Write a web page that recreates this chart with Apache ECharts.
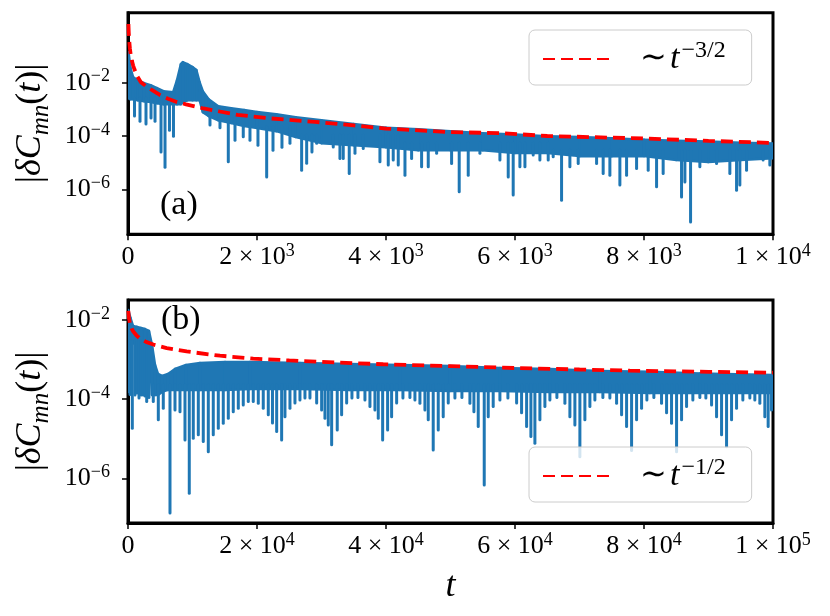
<!DOCTYPE html>
<html>
<head>
<meta charset="utf-8">
<script src="https://cdn.jsdelivr.net/npm/echarts@6/dist/echarts.min.js"></script>
<style>
html, body { margin: 0; padding: 0; background: #fff; }
#chart { width: 830px; height: 616px; }
</style>
</head>
<body>
<div id="chart"></div>
<script>
// tick values and labels
var xTicksA = [0, 2000, 4000, 6000, 8000, 10000];
var xTicksB = [0, 20000, 40000, 60000, 80000, 100000];
var xMant = ['0', '2', '4', '6', '8', '1'];
var xExpA = ['', '3', '3', '3', '3', '4'];
var xExpB = ['', '4', '4', '4', '4', '5'];
var yTicks = [1e-6, 1e-4, 1e-2];
var yExp = ['−6', '−4', '−2'];

// panel (a): |dC| band (upper / lower edge of the dense oscillation)
var bandTA = [8, 40, 80, 150, 250, 350, 450, 550, 700, 760, 820, 850, 920, 1000, 1060, 1110, 1160, 1250, 1400, 1600, 1800, 2000, 2300, 2600, 3000, 3500, 4000, 4500, 5000, 5500, 6000, 6500, 7000, 7500, 8000, 8500, 9000, 9500, 10000];
var bandHiA = [0.14, 0.035, 0.016, 0.0125, 0.0097, 0.0081, 0.0063, 0.0048, 0.0044, 0.0125, 0.05, 0.059, 0.05, 0.0385, 0.03, 0.0105, 0.0048, 0.0024, 0.00132, 0.00111, 0.00094, 0.00079, 0.00066, 0.00051, 0.00039, 0.00028, 0.000205, 0.00018, 0.000152, 0.000128, 0.000113, 0.000099, 0.000091, 0.000083, 0.000073, 0.000067, 0.000062, 0.0000565, 0.000052];
var bandLoA = [0.0026, 0.0024, 0.0024, 0.0022, 0.002, 0.00187, 0.0017, 0.00157, 0.00157, 0.00157, 0.00157, 0.00187, 0.0022, 0.0022, 0.0022, 0.0022, 0.00079, 0.00056, 0.00039, 0.000305, 0.000235, 0.000198, 0.000152, 0.000091, 0.000054, 0.0000455, 0.000038, 0.0000295, 0.0000295, 0.0000295, 0.000023, 0.000023, 0.0000176, 0.0000176, 0.0000176, 0.0000125, 0.0000105, 0.0000125, 0.0000148];
// dips below the band: [t, from, down to]
var spikesA = [
    [101, 2.6e-3, 5.6e-4], [186, 2.6e-3, 3.6e-4], [279, 2.6e-3, 2.8e-4], [357, 2.6e-3, 4.7e-4],
    [419, 2.6e-3, 3.6e-4], [512, 2.6e-3, 2.5e-5], [574, 2.6e-3, 6.8e-6], [643, 2.6e-3, 1.66e-4],
    [705, 2.6e-3, 9.9e-5], [1271, 1.1e-3, 2.6e-4], [1426, 4.7e-4, 2.05e-4], [1555, 4.7e-4, 1.08e-5],
    [1659, 4.7e-4, 7.0e-5], [1787, 4.7e-4, 9.3e-5], [1891, 4.7e-4, 7.0e-5], [2015, 2.2e-4, 4.55e-5],
    [2150, 2.2e-4, 2.9e-6], [2248, 2.2e-4, 2.95e-5], [2387, 2.2e-4, 3.8e-5], [2511, 2.2e-4, 5.4e-5],
    [2692, 1.08e-4, 5.2e-6], [2770, 1.08e-4, 9.6e-6], [2852, 1.08e-4, 2.5e-5], [2925, 1.08e-4, 5.4e-5],
    [3182, 1.08e-4, 3.9e-5], [3286, 1.08e-4, 1.44e-5], [3337, 1.08e-4, 1.44e-5], [3430, 1.08e-4, 3.9e-6],
    [3519, 1.08e-4, 2.25e-5], [3647, 1.08e-4, 3.4e-5], [3906, 1.08e-4, 1.08e-5], [4035, 1.08e-4, 8.1e-6],
    [4112, 1.08e-4, 1.25e-5], [4190, 1.08e-4, 8.1e-6], [4294, 5.4e-5, 3.4e-6], [4397, 5.4e-5, 1.44e-5],
    [4552, 5.4e-5, 7.0e-6], [4655, 5.4e-5, 7.0e-6], [4785, 5.4e-5, 2.25e-5], [5017, 5.4e-5, 9.4e-6],
    [5135, 5.4e-5, 8.1e-7], [5275, 5.4e-5, 3.4e-6], [5456, 5.4e-5, 2.25e-5], [5766, 5.4e-5, 1.25e-5],
    [5895, 5.4e-5, 2.9e-6], [5972, 5.4e-5, 6.1e-7], [6076, 5.4e-5, 7.0e-6], [6154, 5.4e-5, 7.0e-6],
    [6282, 5.4e-5, 1.92e-5], [6386, 5.4e-5, 1.25e-5], [6515, 5.4e-5, 1.25e-5], [6592, 2.95e-5, 1.66e-5],
    [6722, 2.95e-5, 3.9e-7], [6851, 2.95e-5, 7.0e-6], [6980, 2.95e-5, 9.4e-6], [7265, 2.95e-5, 9.4e-6],
    [7367, 2.95e-5, 3.9e-6], [7471, 2.95e-5, 3.4e-6], [7626, 2.95e-5, 1.44e-6], [7730, 2.95e-5, 3.4e-6],
    [7885, 2.95e-5, 6.1e-6], [8065, 2.95e-5, 5.2e-6], [8195, 2.95e-5, 1.24e-6], [8297, 2.95e-5, 3.9e-6],
    [8582, 2.95e-5, 5.2e-7], [8634, 2.95e-5, 1.9e-6], [8722, 2.95e-5, 6.0e-8], [8866, 2.95e-5, 7.0e-6],
    [9125, 2.95e-5, 9.4e-6], [9331, 2.95e-5, 3.9e-6], [9435, 2.95e-5, 9.3e-7], [9486, 2.95e-5, 1.44e-6],
    [9590, 2.95e-5, 5.2e-6], [9847, 2.95e-5, 1.25e-5], [9951, 2.95e-5, 8.1e-6]
];
// red dashed guide ~ t^-3/2
var fitA = [[7, 1.6], [12, 0.75], [20, 0.35], [30, 0.19], [45, 0.1], [60, 0.068], [80, 0.044], [100, 0.032], [135, 0.019], [200, 0.0105], [290, 0.0071], [400, 0.0048], [500, 0.0034], [620, 0.0025], [755, 0.0019], [900, 0.00155], [1170, 0.00108], [1400, 0.00085], [1700, 0.00062], [2200, 0.00046], [2900, 0.00034], [3500, 0.00025], [4000, 0.00019], [5000, 0.00014], [5800, 0.000128], [6500, 0.0001], [8000, 0.000081], [9000, 0.000066], [10000, 0.000055]];

// panel (b)
var bandTB = [50, 390, 775, 1400, 2000, 2640, 3250, 3720, 4190, 4650, 5270, 6200, 7290, 9000, 11160, 15040, 18900, 26660, 34410, 42160, 49910, 57660, 65410, 73160, 80910, 88660, 100000];
var bandHiB = [1.79e-2, 1.12e-2, 7.1e-3, 6.7e-3, 6.3e-3, 5.9e-3, 5.3e-3, 2.34e-3, 7.3e-4, 4.33e-4, 3.85e-4, 4.33e-4, 5.8e-4, 7.3e-4, 8.2e-4, 8.7e-4, 8.7e-4, 8.2e-4, 7.7e-4, 7.3e-4, 6.9e-4, 6.1e-4, 5.8e-4, 5.15e-4, 4.9e-4, 4.45e-4, 4.08e-4];
var bandLoB = [1.52e-4, 2.6e-3, 2.6e-3, 2.6e-3, 2.6e-3, 2.6e-3, 2.6e-3, 1.28e-4, 1.28e-4, 1.28e-4, 1.52e-4, 1.71e-4, 1.71e-4, 1.71e-4, 1.71e-4, 1.71e-4, 1.81e-4, 1.81e-4, 1.71e-4, 1.71e-4, 1.61e-4, 1.61e-4, 1.52e-4, 1.52e-4, 1.43e-4, 1.43e-4, 1.43e-4];
var spikesB = [
    [310, 3.0e-3, 1.3e-4], [667, 3.0e-3, 1.84e-5], [1085, 3.0e-3, 1.28e-4], [1400, 3.0e-3, 1.43e-4],
    [1705, 3.0e-3, 1.07e-4], [2050, 3.0e-3, 1.28e-4], [2370, 3.0e-3, 1.28e-4], [2650, 3.0e-3, 1.2e-4],
    [2900, 3.0e-3, 8.65e-5], [3250, 3.0e-3, 1.1e-4], [3920, 2.28e-4, 8.65e-5], [4700, 2.28e-4, 3.0e-5],
    [5470, 2.28e-4, 5.9e-5],
    [6510, 2.28e-4, 1.32e-7], [7285, 2.28e-4, 5.3e-5], [8060, 2.28e-4, 4.8e-5], [8835, 2.28e-4, 9.3e-6],
    [9500, 2.28e-4, 4.2e-7], [10120, 2.28e-4, 1.03e-5], [10900, 2.28e-4, 1.25e-5], [11670, 2.28e-4, 8.45e-6],
    [12450, 2.28e-4, 4.7e-6], [13220, 2.28e-4, 1.25e-5], [14000, 2.28e-4, 1.84e-5], [14770, 2.28e-4, 2.46e-5],
    [15550, 2.28e-4, 3.3e-5], [16320, 2.28e-4, 4.8e-5], [17100, 2.28e-4, 5.9e-5], [17870, 2.28e-4, 7.1e-5],
    [18650, 2.28e-4, 8.65e-5], [19420, 2.28e-4, 8.65e-5], [20200, 2.28e-4, 7.9e-5], [20970, 2.28e-4, 5.9e-5],
    [21750, 2.28e-4, 4.0e-5], [22400, 2.28e-4, 2.5e-5], [23050, 2.28e-4, 1.51e-5], [23820, 2.28e-4, 9.3e-6],
    [24335, 2.28e-4, 3.6e-5], [25110, 2.28e-4, 5.9e-5], [25885, 2.28e-4, 8.0e-5], [26660, 2.28e-4, 9.5e-5],
    [27435, 2.28e-4, 1.07e-4], [28210, 2.28e-4, 1.07e-4], [29250, 2.28e-4, 8.0e-5], [30020, 2.28e-4, 5.3e-5],
    [30535, 2.28e-4, 3.3e-5], [31050, 2.28e-4, 2.23e-5], [31574, 2.28e-4, 7.0e-6], [32440, 2.28e-4, 1.67e-5],
    [33120, 2.28e-4, 4.0e-5], [33900, 2.28e-4, 8.0e-5], [34720, 2.28e-4, 1.07e-4], [35650, 2.28e-4, 1.1e-4],
    [36735, 2.28e-4, 9.5e-5], [37510, 2.28e-4, 6.5e-5], [38285, 2.28e-4, 5.3e-5], [38800, 2.28e-4, 3.3e-5],
    [39480, 2.28e-4, 9.3e-6], [40250, 2.28e-4, 1.67e-5], [40870, 2.28e-4, 3.6e-5], [41650, 2.28e-4, 8.0e-5],
    [42625, 2.28e-4, 1.07e-4], [43710, 2.28e-4, 1.1e-4], [44485, 2.28e-4, 9.5e-5], [45260, 2.28e-4, 7.9e-5],
    [46035, 2.28e-4, 5.3e-5], [46550, 2.28e-4, 3.0e-5], [47320, 2.28e-4, 5.2e-6], [48100, 2.28e-4, 1.67e-5],
    [48870, 2.28e-4, 3.6e-5], [49650, 2.28e-4, 8.0e-5], [50685, 2.28e-4, 1.07e-4], [51770, 2.28e-4, 1.1e-4],
    [53010, 2.28e-4, 7.9e-5], [53630, 2.28e-4, 4.8e-5], [54300, 2.28e-4, 2.02e-5], [55230, 2.28e-4, 6.8e-7],
    [55850, 2.28e-4, 3.6e-5], [56620, 2.28e-4, 6.5e-5], [57660, 2.28e-4, 9.5e-5], [58900, 2.28e-4, 1.07e-4],
    [60250, 2.28e-4, 8.0e-5], [61020, 2.28e-4, 4.5e-5], [61800, 2.28e-4, 2.02e-5], [62465, 2.28e-4, 1.13e-5],
    [63085, 2.28e-4, 7.7e-6], [63860, 2.28e-4, 3.0e-5], [64635, 2.28e-4, 6.5e-5], [65410, 2.28e-4, 9.5e-5],
    [66495, 2.28e-4, 1.1e-4], [67735, 2.28e-4, 7.9e-5], [68510, 2.28e-4, 3.6e-5], [69285, 2.28e-4, 2.23e-5],
    [70060, 2.28e-4, 3.5e-6], [70835, 2.28e-4, 3.0e-5], [71610, 2.28e-4, 6.5e-5], [72385, 2.28e-4, 9.5e-5],
    [73625, 2.28e-4, 1.1e-4], [74710, 2.28e-4, 1.07e-4], [75750, 2.28e-4, 7.9e-5], [76525, 2.28e-4, 4.0e-5],
    [77300, 2.28e-4, 2.02e-5], [78075, 2.28e-4, 5.0e-6], [78850, 2.28e-4, 3.0e-5], [79625, 2.28e-4, 5.9e-5],
    [80445, 2.28e-4, 9.5e-5], [81530, 2.28e-4, 1.1e-4], [82720, 2.28e-4, 7.9e-5], [83500, 2.28e-4, 4.5e-5],
    [84270, 2.28e-4, 2.46e-5], [85050, 2.28e-4, 4.7e-6], [85825, 2.28e-4, 3.0e-5], [86600, 2.28e-4, 6.5e-5],
    [87575, 2.28e-4, 9.5e-5], [88660, 2.28e-4, 1.1e-4], [89590, 2.28e-4, 1.07e-4], [90475, 2.28e-4, 7.1e-5],
    [91250, 2.28e-4, 3.6e-5], [92025, 2.28e-4, 1.25e-5], [92800, 2.28e-4, 6.3e-6], [93575, 2.28e-4, 3.0e-5],
    [94350, 2.28e-4, 5.9e-5], [95325, 2.28e-4, 9.5e-5], [96410, 2.28e-4, 1.07e-4], [97185, 2.28e-4, 9.5e-5],
    [97960, 2.28e-4, 7.9e-5], [98735, 2.28e-4, 3.6e-5], [99250, 2.28e-4, 2.02e-5], [99770, 2.28e-4, 5.3e-5]
];
// red dashed guide ~ t^-1/2
var fitB = [[50, 1.7e-2], [150, 1.1e-2], [310, 8.0e-3], [570, 6.0e-3], [820, 5.1e-3], [1300, 4.1e-3], [1860, 3.4e-3], [2800, 2.8e-3], [3920, 2.4e-3], [6000, 1.95e-3], [9100, 1.6e-3], [14260, 1.25e-3], [19420, 1.06e-3], [25000, 9.5e-4], [29250, 8.85e-4], [39570, 7.6e-4], [50000, 6.8e-4], [60250, 6.1e-4], [70000, 5.6e-4], [77810, 5.25e-4], [90000, 4.9e-4], [100000, 4.67e-4]];

var nameA = '∼t^(−3/2)';
var nameB = '∼t^(−1/2)';

var blue = '#1f77b4';
var red = '#ff0000';
var serif = 'Liberation Serif';

var chart = echarts.init(document.getElementById('chart'));

var tickRich = {
    b: { fontFamily: serif, fontSize: 26, lineHeight: 30, color: '#000' },
    s: { fontFamily: serif, fontSize: 18, lineHeight: 20, verticalAlign: 'top', color: '#000' }
};

function xFormatter(ticks, exps) {
    return function (v) {
        var i = ticks.indexOf(v);
        if (i < 0) return '';
        if (!exps[i]) return '{b|' + xMant[i] + '}';
        return '{b|' + xMant[i] + ' × 10}{s|' + exps[i] + '}';
    };
}

function yFormatter(v) {
    var best = 0;
    for (var i = 0; i < yTicks.length; i++) {
        if (Math.abs(Math.log10(v) - Math.log10(yTicks[i])) < Math.abs(Math.log10(v) - Math.log10(yTicks[best]))) best = i;
    }
    return '{b|10}{s|' + yExp[best] + '}';
}

var yName = '{p||}{i|δC}{s|mn}{p|(}{i|t}{p|)|}';
var yNameStyle = {
    color: '#000', fontFamily: serif,
    rich: {
        p: { fontFamily: serif, fontSize: 36, lineHeight: 46, color: '#000' },
        i: { fontFamily: serif, fontStyle: 'italic', fontSize: 36, lineHeight: 46, color: '#000' },
        s: { fontFamily: serif, fontStyle: 'italic', fontSize: 25, lineHeight: 28, verticalAlign: 'bottom', color: '#000' }
    }
};

function xAxisOpt(gi, max, ticks, exps) {
    return {
        gridIndex: gi, type: 'value', min: 0, max: max, interval: ticks[1],
        axisLine: { show: true, onZero: false, lineStyle: { color: '#000', width: 3 } },
        axisTick: { show: true, length: 6, lineStyle: { color: '#000', width: 1.5 } },
        axisLabel: { margin: 8, fontFamily: serif, fontSize: 26, formatter: xFormatter(ticks, exps), rich: tickRich, color: '#000' },
        splitLine: { show: false }
    };
}

function yAxisOpt(gi, min, max) {
    return {
        gridIndex: gi, type: 'log', logBase: 10, min: min, max: max,
        axisLine: { show: true, lineStyle: { color: '#000', width: 3 } },
        axisTick: { show: true, customValues: yTicks, length: 6, lineStyle: { color: '#000', width: 1.5 } },
        axisLabel: { customValues: yTicks, margin: 18, fontFamily: serif, fontSize: 26, formatter: yFormatter, rich: tickRich, color: '#000' },
        minorTick: { show: false },
        splitLine: { show: false },
        name: yName, nameLocation: 'middle', nameRotate: 90, nameGap: 74,
        nameMoveOverlap: false,
        nameTextStyle: yNameStyle
    };
}

function panelSeries(gi, T, hi, lo, spikes, fit, fitName) {
    // one quadrilateral per pair of neighbouring samples of the band
    var segs = [];
    for (var i = 0; i < T.length - 1; i++) {
        segs.push([T[i], hi[i], lo[i], T[i + 1], hi[i + 1], lo[i + 1]]);
    }
    return [{
        type: 'custom', xAxisIndex: gi, yAxisIndex: gi, data: segs, silent: true, z: 2, clip: true,
        encode: { x: [0, 3], y: [1, 2, 4, 5] },
        renderItem: function (params, api) {
            var pts = [
                api.coord([api.value(0), api.value(1)]),
                api.coord([api.value(3), api.value(4)]),
                api.coord([api.value(3), api.value(5)]),
                api.coord([api.value(0), api.value(2)])
            ];
            return {
                type: 'polygon',
                shape: { points: pts },
                style: { fill: blue, stroke: blue, lineWidth: 2.5, lineJoin: 'round' }
            };
        }
    }, {
        type: 'custom', xAxisIndex: gi, yAxisIndex: gi, data: spikes, silent: true, z: 3, clip: true,
        encode: { x: 0, y: [1, 2] },
        renderItem: function (params, api) {
            var a = api.coord([api.value(0), api.value(1)]);
            var b = api.coord([api.value(0), api.value(2)]);
            return {
                type: 'line',
                shape: { x1: a[0], y1: a[1], x2: b[0], y2: b[1] },
                style: { stroke: blue, lineWidth: 3, lineCap: 'round' }
            };
        }
    }, {
        type: 'line', name: fitName, xAxisIndex: gi, yAxisIndex: gi,
        data: fit, symbol: 'none', silent: true, z: 4,
        itemStyle: { color: red },
        lineStyle: { color: red, width: 3.8, type: [12, 6] }
    }];
}

function legendOpt(name, top, sup) {
    return {
        data: [name], left: 529, top: top, orient: 'horizontal',
        itemWidth: 66, itemHeight: 14, selectedMode: false,
        padding: [9, 26, 9, 13],
        backgroundColor: 'rgba(255,255,255,0.8)',
        borderColor: '#cccccc', borderWidth: 1, borderRadius: 6,
        itemStyle: { opacity: 0 },
        formatter: function () { return '{a|∼}{b|t}{c|' + sup + '}'; },
        textStyle: {
            color: '#000', fontFamily: serif,
            rich: {
                a: { fontFamily: serif, fontSize: 32, lineHeight: 40, padding: [0, 3, 0, 26], color: '#000' },
                b: { fontFamily: serif, fontStyle: 'italic', fontSize: 34, lineHeight: 40, color: '#000' },
                c: { fontFamily: serif, fontSize: 24, lineHeight: 26, verticalAlign: 'top', padding: [0, 0, 0, 2], color: '#000' }
            }
        }
    };
}

var option = {
    backgroundColor: '#fff',
    animation: false,
    grid: [
        { left: 128, top: 12.7, width: 645, height: 221.5, show: true, borderColor: '#000', borderWidth: 3, backgroundColor: 'transparent', outerBoundsMode: 'none' },
        { left: 128, top: 300, width: 645, height: 223, show: true, borderColor: '#000', borderWidth: 3, backgroundColor: 'transparent', outerBoundsMode: 'none' }
    ],
    xAxis: [
        xAxisOpt(0, 10000, xTicksA, xExpA),
        Object.assign(xAxisOpt(1, 100000, xTicksB, xExpB), {
            name: 't', nameLocation: 'middle', nameGap: 46,
            nameTextStyle: { fontFamily: serif, fontStyle: 'italic', fontSize: 36, color: '#000' }
        })
    ],
    yAxis: [
        yAxisOpt(0, 2.07e-8, 4.24),
        yAxisOpt(1, 7.4e-8, 3.2e-2)
    ],
    legend: [
        legendOpt(nameA, 30, '−3/2'),
        legendOpt(nameB, 447, '−1/2')
    ],
    graphic: [
        { type: 'text', left: 160, top: 188, z: 100, style: { text: '(a)', fontFamily: serif, fontSize: 34, fill: '#000' } },
        { type: 'text', left: 161, top: 303, z: 100, style: { text: '(b)', fontFamily: serif, fontSize: 34, fill: '#000' } }
    ],
    series: [].concat(
        panelSeries(0, bandTA, bandHiA, bandLoA, spikesA, fitA, nameA),
        panelSeries(1, bandTB, bandHiB, bandLoB, spikesB, fitB, nameB)
    )
};

chart.setOption(option);
window.addEventListener('resize', function () {
    chart.resize();
});
</script>
</body>
</html>
